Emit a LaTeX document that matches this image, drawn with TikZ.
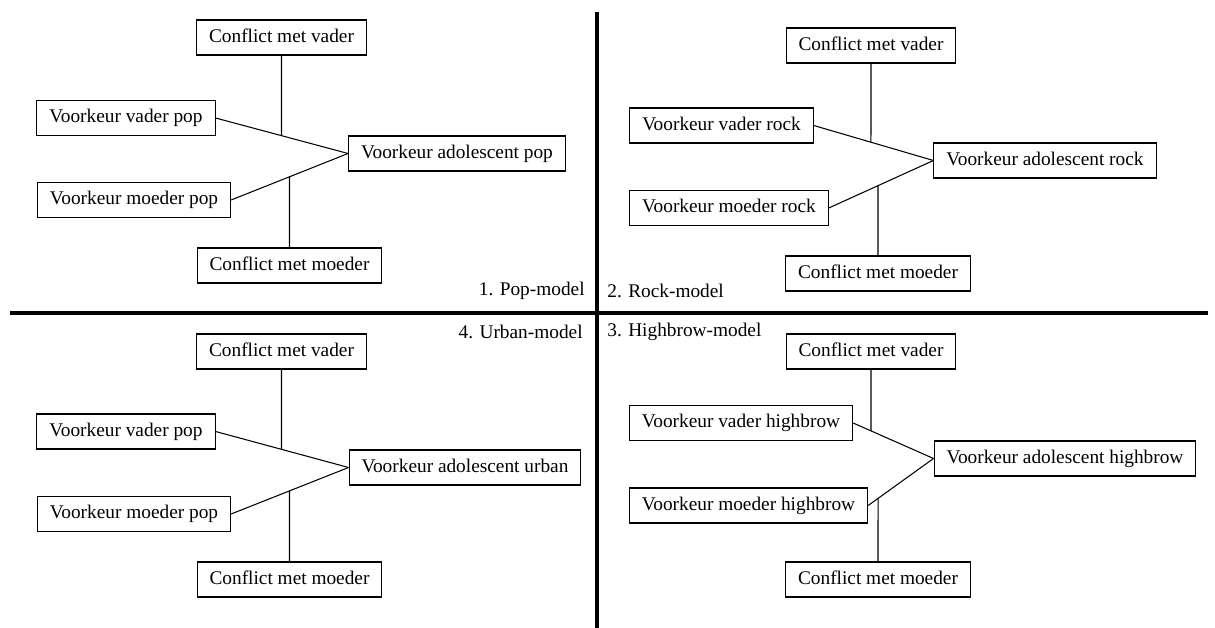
\documentclass[tikz,border=0pt]{standalone}
\usepackage{fontspec}
\setmainfont{Liberation Serif}
\usetikzlibrary{calc,positioning}
\tikzset{
  varbox/.style={draw, line width=0.6pt, inner xsep=0.25cm, inner ysep=0pt,
    minimum height=0.7cm, text height=8pt, text depth=2.5pt,
    font=\fontsize{11}{13}\selectfont},
  modellabel/.style={inner sep=0pt, font=\fontsize{11}{13}\selectfont},
  link/.style={line width=0.6pt}
}

\begin{document}
\begin{tikzpicture}[x=0.02cm,y=-0.02cm]
    \useasboundingbox (0,0) rectangle (1215,628);
    % 1. pop
    \node[varbox] (pcv) at (281.5,37.5) {Conflict met vader};
    \node[varbox] (pvv) at (126,118) {Voorkeur vader pop};
    \node[varbox] (pva) at (457,153.5) {Voorkeur adolescent pop};
    \node[varbox] (pvm) at (134,200) {Voorkeur moeder pop};
    \node[varbox] (pcm) at (289.5,265.5) {Conflict met moeder};
    \node[modellabel, anchor=east] (plab) at (585,291) {1. Pop-model};
    % 2. rock
    \node[varbox] (rcv) at (871,45.5) {Conflict met vader};
    \node[varbox] (rvv) at (721.5,125.5) {Voorkeur vader rock};
    \node[varbox] (rva) at (1045,160.5) {Voorkeur adolescent rock};
    \node[varbox] (rvm) at (729,208) {Voorkeur moeder rock};
    \node[varbox] (rcm) at (878,273.5) {Conflict met moeder};
    \node[modellabel, anchor=west] (rlab) at (607,291) {2. Rock-model};
    % 4. urban
    \node[varbox] (ucv) at (281.5,351.5) {Conflict met vader};
    \node[varbox] (uvv) at (126,431.5) {Voorkeur vader pop};
    \node[varbox] (uva) at (465,467.5) {Voorkeur adolescent urban};
    \node[varbox] (uvm) at (134,514) {Voorkeur moeder pop};
    \node[varbox] (ucm) at (289.5,579.5) {Conflict met moeder};
    \node[modellabel, anchor=east] (ulab) at (583,332) {4. Urban-model};
    % 3. highbrow
    \node[varbox] (hcv) at (871,351.5) {Conflict met vader};
    \node[varbox] (hvv) at (741,423) {Voorkeur vader highbrow};
    \node[varbox] (hva) at (1065,458.5) {Voorkeur adolescent highbrow};
    \node[varbox] (hvm) at (748.5,505.5) {Voorkeur moeder highbrow};
    \node[varbox] (hcm) at (878,579.5) {Conflict met moeder};
    \node[modellabel, anchor=west] (hlab) at (607,332) {3. Highbrow-model};
    % connectors
    \foreach \q in {p,r,u,h} {
      \draw[link] (\q vv.east) -- (\q va.west);
      \draw[link] (\q vm.east) -- (\q va.west);
      \draw[link] (\q cv.south) -- (intersection of \q cv.north--\q cv.south and \q vv.east--\q va.west);
      \draw[link] (\q cm.north) -- (intersection of \q cm.north--\q cm.south and \q vm.east--\q va.west);
    }
    % quadrant dividers
    \coordinate (divtop) at (597,12);
    \coordinate (divbot) at (597,628);
    \coordinate (divleft) at (10,313);
    \coordinate (divright) at (1208,313);
    \draw[line width=2.3pt] (divtop) -- (divbot);
    \draw[line width=2.3pt] (divleft) -- (divright);
\end{tikzpicture}
\end{document}
